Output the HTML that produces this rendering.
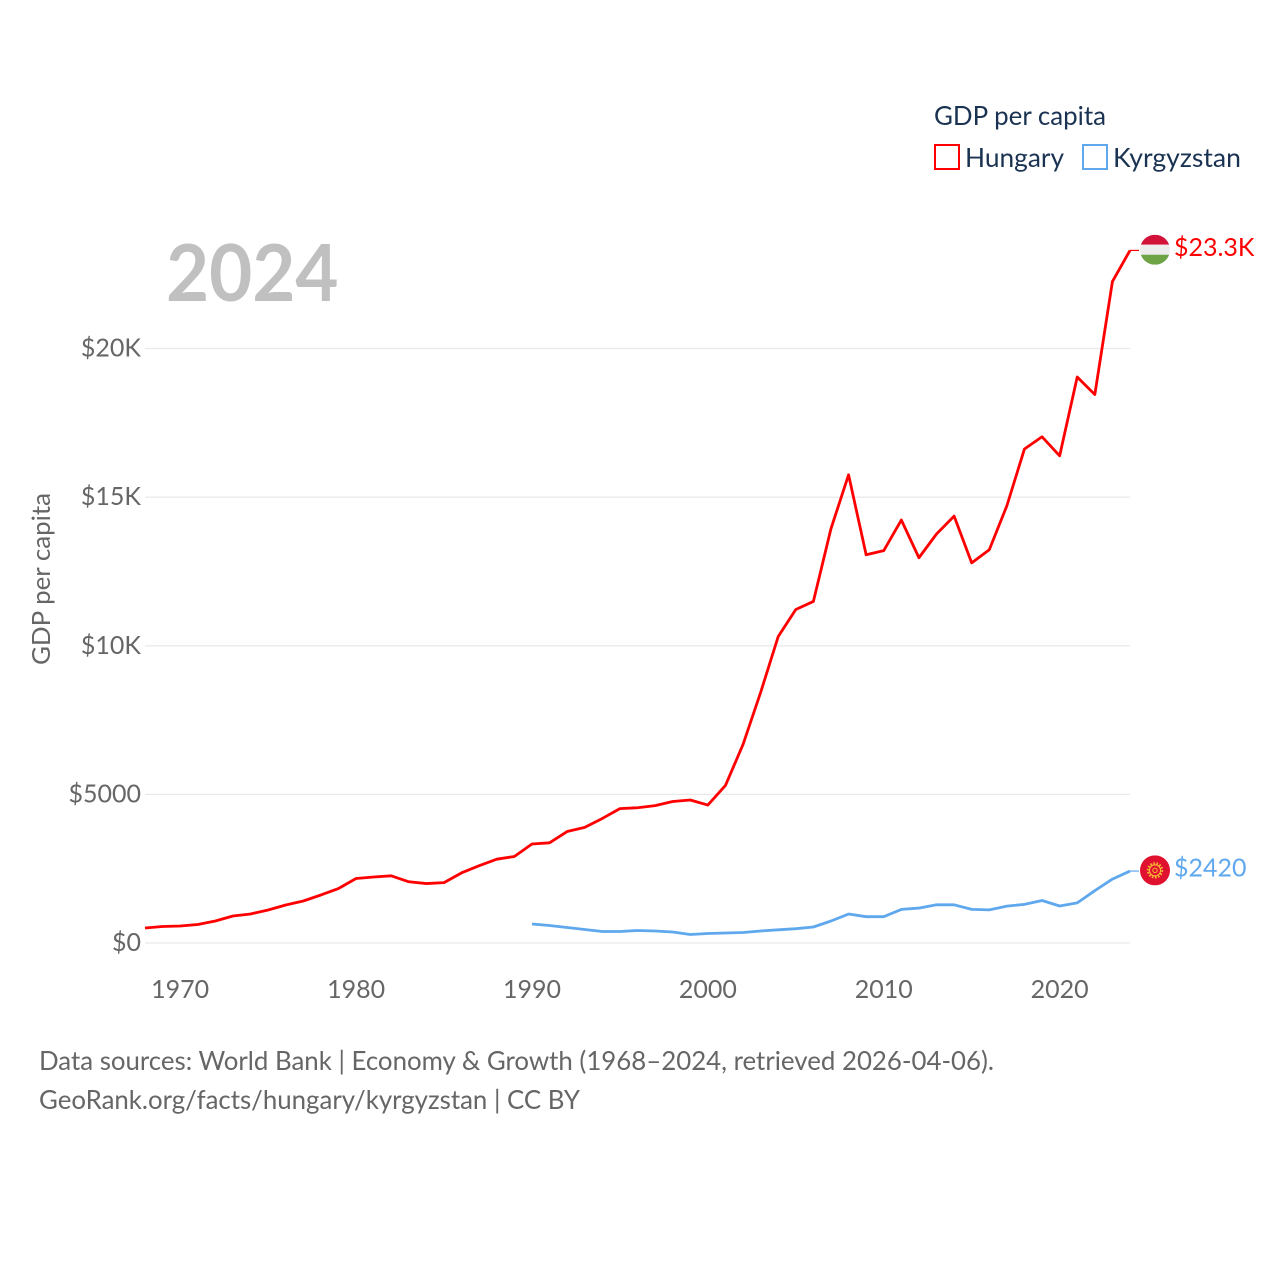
<!DOCTYPE html>
<html lang="en">
<head>
<meta charset="utf-8">
<title>GDP per capita: Hungary and Kyrgyzstan</title>
<style>
html,body{margin:0;padding:0;background:#fff;}
#chart{display:block;width:1280px;height:1280px;font-family:"Lato","Liberation Sans",sans-serif;}
.tick{font-size:25px;fill:#666;}
.legend{font-size:26px;fill:#1a3352;}
.foot{font-size:26px;fill:#666;}
</style>
</head>
<body>
<svg id="chart" xmlns="http://www.w3.org/2000/svg" width="1280" height="1280" viewBox="0 0 1280 1280">
  <defs>
    <clipPath id="flag-clip"><circle cx="0" cy="0" r="15"></circle></clipPath>
  </defs>
  <g id="grid"></g>
  <g id="yticks"></g>
  <g id="xticks"></g>
  <g id="series"></g>

  <text x="166" y="301" font-size="79" font-weight="700" fill="#c0c0c0" textLength="172.5" lengthAdjust="spacingAndGlyphs">2024</text>

  <text transform="translate(50 579) rotate(-90)" text-anchor="middle" font-size="25.5" fill="#666" textLength="172" lengthAdjust="spacingAndGlyphs">GDP per capita</text>

  <g>
    <text class="legend" x="934" y="125" textLength="172" lengthAdjust="spacingAndGlyphs">GDP per capita</text>
    <rect x="935" y="145" width="24" height="24" fill="none" stroke="#ff0000" stroke-width="2"></rect>
    <text class="legend" x="965" y="167" textLength="99" lengthAdjust="spacingAndGlyphs">Hungary</text>
    <rect x="1083" y="145" width="24" height="24" fill="none" stroke="#5fa8ee" stroke-width="2"></rect>
    <text class="legend" x="1113" y="167" textLength="128" lengthAdjust="spacingAndGlyphs">Kyrgyzstan</text>
  </g>

  <g id="end-markers"></g>

  <g>
    <text class="foot" x="39" y="1070" textLength="955" lengthAdjust="spacingAndGlyphs">Data sources: World Bank | Economy &amp; Growth (1968–2024, retrieved 2026-04-06).</text>
    <text class="foot" x="39" y="1109" textLength="541" lengthAdjust="spacingAndGlyphs">GeoRank.org/facts/hungary/kyrgyzstan | CC BY</text>
  </g>
</svg>
<script>
const hungaryStartYear = 1968;
const hungaryValues = [505,555,572,622,740,908,976,1110,1278,1413,1615,1833,2170,2220,2260,2060,2000,2030,2360,2600,2820,2910,3330,3370,3750,3890,4190,4520,4550,4620,4760,4810,4640,5300,6680,8430,10310,11220,11490,13940,15750,13060,13200,14230,12960,13760,14360,12790,13230,14710,16620,17030,16390,19040,18450,22250,23300];
const kyrgyzstanStartYear = 1990;
const kyrgyzstanValues = [639,589,521,454,387,387,421,404,370,286,320,336,353,404,444,481,538,740,975,885,885,1130,1175,1285,1285,1130,1115,1240,1300,1430,1245,1350,1760,2150,2420];
const yTickValues = [0,5000,10000,15000,20000];
const yTickLabels = ["$0","$5000","$10K","$15K","$20K"];
const xTickValues = [1970,1980,1990,2000,2010,2020];
const endLabels = ["$23.3K","$2420"];

const NS = "http://www.w3.org/2000/svg";
const xScale = year => 145 + (year - 1968) * (1130 - 145) / (2024 - 1968);
const yScale = value => 943 - value * (943 - 348.5) / 20000;
const make = (tag, attrs, parent) => {
  const el = document.createElementNS(NS, tag);
  for (const k in attrs) el.setAttribute(k, attrs[k]);
  parent.appendChild(el);
  return el;
};

const grid = document.getElementById("grid");
const yticks = document.getElementById("yticks");
yTickValues.forEach((v, i) => {
  const line = make("line", {x1:145, x2:1130, y1:yScale(v), y2:yScale(v), stroke:"#e9e9e9", "stroke-width":1.2}, grid);
  
  
  const t = make("text", {x:141, y:yScale(v)+8, "text-anchor":"end", class:"tick"}, yticks);
  
  
  t.textContent = yTickLabels[i];
});

const xticks = document.getElementById("xticks");
xTickValues.forEach(year => {
  const t = make("text", {x:xScale(year), y:998, "text-anchor":"middle", class:"tick"}, xticks);
  
  
  t.textContent = year;
});

const series = document.getElementById("series");
const drawLine = (values, startYear, color, name) => {
  const pts = values.map((v, i) => xScale(startYear + i).toFixed(2) + "," + yScale(v).toFixed(2)).join(" ");
  const line = make("polyline", {points:pts, fill:"none", stroke:color, "stroke-width":2.8, "stroke-linejoin":"round"}, series);
  
  
};
drawLine(hungaryValues, hungaryStartYear, "#ff0000", "line-hungary");
drawLine(kyrgyzstanValues, kyrgyzstanStartYear, "#5fa8ee", "line-kyrgyzstan");

const markers = document.getElementById("end-markers");
const drawMarker = (value, color, label, labelName, leaderName, flagName, drawFlag) => {
  const y = yScale(value);
  const leader = make("line", {x1:1130, x2:1139, y1:y, y2:y, stroke:color, "stroke-width":1.2}, markers);
  
  
  const flag = make("g", {transform:"translate(1155 " + (y - 0.7) + ")", "clip-path":"url(#flag-clip)"}, markers);
  
  
  drawFlag(flag);
  const t = make("text", {x:1174, y:y+5.5, "font-size":25, fill:color}, markers);
  
  
  t.textContent = label;
};
drawMarker(hungaryValues[hungaryValues.length-1], "#ff0000", endLabels[0], "value-label-hungary", "leader-hungary", "flag-hungary", g => {
  make("rect", {x:-15, y:-15, width:30, height:10, fill:"#d3123a"}, g);
  make("rect", {x:-15, y:-5, width:30, height:10, fill:"#ededed"}, g);
  make("rect", {x:-15, y:5, width:30, height:10, fill:"#6ea445"}, g);
});
drawMarker(kyrgyzstanValues[kyrgyzstanValues.length-1], "#5fa8ee", endLabels[1], "value-label-kyrgyzstan", "leader-kyrgyzstan", "flag-kyrgyzstan", g => {
  make("rect", {x:-15, y:-15, width:30, height:30, fill:"#e0112f"}, g);
  make("circle", {cx:0, cy:0, r:5.6, fill:"none", stroke:"#f6b733", "stroke-width":1.2}, g);
  make("circle", {cx:0, cy:0, r:7.2, fill:"none", stroke:"#f6b733", "stroke-width":2, "stroke-dasharray":"1.6 1.6"}, g);
  make("circle", {cx:0, cy:0, r:2.2, fill:"none", stroke:"#f6b733", "stroke-width":1}, g);
});
</script>
</body>
</html>
